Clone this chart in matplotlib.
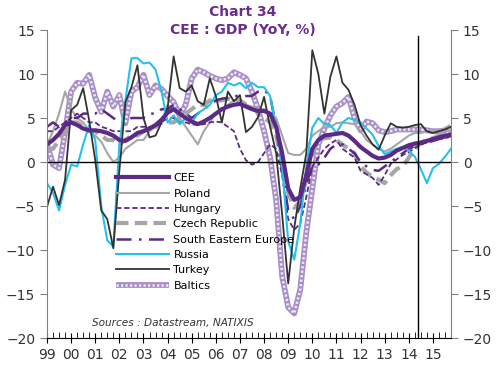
import numpy as np
import matplotlib
matplotlib.use("Agg")
import matplotlib.pyplot as plt
from matplotlib.legend_handler import HandlerTuple

# quarterly, 1999Q1 .. 2015Q4
quarters = 1999 + np.arange(68) / 4.0
year_labels = ["99", "00", "01", "02", "03", "04", "05", "06", "07",
               "08", "09", "10", "11", "12", "13", "14", "15"]

cee = [2.0, 2.5, 3.2, 4.2, 4.5, 4.2, 3.8, 3.6, 3.6, 3.5, 3.3, 3.0,
       2.5, 2.4, 2.8, 3.3, 3.5, 3.8, 4.2, 4.8, 5.6, 6.0, 5.5, 5.0,
       4.6, 4.3, 4.6, 5.0, 5.5, 6.0, 6.3, 6.5, 6.6, 6.3, 6.0, 5.8,
       5.8, 5.5, 4.0, 1.0, -3.0, -4.3, -4.0, -1.5, 1.5, 2.5, 3.0, 3.1,
       3.2, 3.3, 3.0, 2.4, 1.7, 1.2, 0.7, 0.4, 0.5, 0.8, 1.3, 1.6,
       1.9, 2.1, 2.2, 2.4, 2.6, 2.8, 3.0, 3.1]
poland = [2.0, 3.5, 5.5, 8.0, 6.0, 5.0, 4.5, 3.5, 3.0, 2.3, 1.0, 0.0,
          0.5, 1.5, 2.0, 2.5, 2.5, 3.5, 4.0, 4.5, 6.5, 6.0, 5.0, 4.0,
          3.0, 2.0, 3.5, 4.5, 5.5, 6.0, 6.5, 7.0, 7.0, 6.5, 6.3, 6.0,
          6.0, 5.5, 5.0, 3.0, 1.0, 0.8, 0.8, 1.5, 3.0, 3.5, 4.0, 4.0,
          4.4, 4.5, 4.4, 4.3, 3.5, 2.5, 2.0, 1.5, 1.2, 1.5, 2.0, 2.5,
          3.0, 3.3, 3.3, 3.5, 3.5, 3.5, 3.5, 3.6]
hungary = [3.5, 3.5, 4.0, 4.5, 5.0, 5.5, 5.0, 4.5, 4.5, 4.0, 3.8, 3.5,
           3.5, 3.5, 3.5, 4.0, 4.0, 4.0, 4.0, 4.5, 5.0, 5.0, 4.5, 4.5,
           4.3, 4.2, 4.3, 4.5, 4.6, 4.5, 4.0, 3.5, 1.5, 0.2, -0.3, 0.0,
           1.0, 2.0, 1.5, -1.5, -6.5, -7.7, -7.0, -4.0, -0.5, 0.5, 1.5, 2.1,
           2.5, 1.5, 1.0, 0.5, -1.0, -1.4, -1.8, -2.6, -1.5, -0.2, 0.3, 0.8,
           1.1, 1.6, 2.0, 2.2, 2.4, 2.6, 2.7, 2.9]
czech = [1.5, 1.5, 2.5, 3.5, 4.5, 4.5, 4.0, 3.5, 3.5, 3.0, 2.5, 2.5,
         2.0, 2.5, 3.0, 3.0, 3.5, 4.0, 4.0, 4.5, 4.5, 4.5, 5.0, 5.5,
         6.0, 6.5, 6.5, 7.0, 7.0, 7.0, 7.2, 7.0, 7.0, 6.5, 6.5, 5.5,
         5.0, 4.5, 3.0, 0.0, -3.5, -5.2, -4.5, -2.0, 1.0, 2.5, 2.7, 2.8,
         2.5, 2.0, 1.5, 1.0, -0.5, -1.2, -1.7, -2.0, -2.4, -1.5, -0.8, -0.5,
         0.5, 1.5, 2.2, 2.5, 2.7, 3.0, 3.2, 3.5]
see = [4.0, 4.5, 4.0, 4.5, 5.0, 5.0, 5.5, 5.5, 5.5, 6.0, 5.5, 5.0,
       4.5, 4.5, 5.0, 5.0, 5.0, 5.5, 5.5, 6.0, 6.0, 6.5, 6.0, 5.5,
       5.0, 5.5, 6.0, 6.5, 7.0, 7.2, 7.3, 7.5, 7.5, 7.5, 7.5, 8.0,
       8.2, 7.5, 4.0, -1.0, -5.5, -6.5, -5.0, -2.5, -0.5, -0.3, 0.5, 1.5,
       2.0, 2.0, 1.5, 1.0, 0.0, -0.5, -0.9, -1.0, -0.5, 0.0, 0.5, 1.0,
       1.5, 1.8, 2.0, 2.2, 2.4, 2.6, 2.8, 3.0]
russia = [-2.4, -3.5, -5.5, -2.6, -0.3, -0.5, 2.0, 4.2, 2.5, -5.1, -8.9, -9.6,
          2.0, 7.0, 11.8, 11.8, 11.2, 11.3, 10.5, 8.0, 4.5, 5.3, 4.3, 5.0,
          4.5, 5.5, 6.0, 6.5, 7.6, 8.0, 9.0, 8.7, 9.0, 8.4, 9.0, 8.5,
          8.5, 7.5, 4.0, -0.5, -9.0, -11.1, -7.0, -0.5, 3.9, 5.0, 4.3, 4.2,
          3.3, 4.5, 5.0, 4.8, 4.5, 3.8, 3.1, 1.8, 0.9, 1.2, 1.5, 1.7,
          1.3, 0.6, -0.8, -2.4, -0.7, -0.2, 0.6, 1.5]
turkey = [-5.1, -2.8, -4.9, -2.0, 5.9, 6.5, 8.4, 4.7, 0.2, -5.5, -6.5, -9.8,
          -1.0, 6.8, 8.5, 11.0, 5.0, 2.8, 3.0, 4.5, 6.1, 12.0, 8.4, 8.0,
          8.7, 6.9, 6.5, 9.5, 7.5, 4.5, 8.0, 6.9, 7.6, 3.4, 4.0, 5.1,
          7.4, 4.0, 1.0, -6.0, -13.8, -7.5, -3.0, 1.0, 12.7, 10.0, 5.5, 9.7,
          12.0, 9.0, 8.2, 6.5, 4.2, 3.0, 2.0, 1.4, 3.0, 4.4, 4.0, 3.9,
          4.0, 4.2, 4.3, 3.5, 3.3, 3.5, 3.7, 4.0]
baltics = [2.0, -0.3, -0.7, 3.4, 8.0, 9.0, 8.9, 9.9, 7.3, 5.7, 8.0, 6.3,
           7.6, 4.4, 8.0, 8.5, 9.9, 7.6, 8.7, 8.3, 7.5, 6.8, 5.3, 6.5,
           9.5, 10.5, 10.2, 9.8, 9.5, 9.3, 9.5, 10.2, 9.9, 9.5, 8.0, 6.0,
           3.5, 0.5, -4.3, -13.0, -16.5, -17.2, -14.5, -8.0, -3.0, 2.0, 3.8, 5.3,
           6.3, 6.7, 7.4, 5.0, 3.6, 4.6, 4.4, 3.6, 3.4, 3.5, 3.7, 3.7,
           3.7, 3.7, 3.7, 3.6, 3.5, 3.5, 3.6, 4.0]

PURPLE = "#5B2A86"
GREY = "#A6A6A6"

fig = plt.figure(figsize=(5.0, 3.77), dpi=100)
ax = fig.add_axes([0.094, 0.1034, 0.808, 0.817])

# Baltics: chain of small rings -> lavender base with pale dots on top
h_bal0, = ax.plot(quarters, baltics, color="#A890C6", lw=4.2, solid_capstyle="butt")
h_bal1, = ax.plot(quarters, baltics, color="#F0E8F7", lw=1.8, ls=(0, (0.9, 0.9)))
h_pol, = ax.plot(quarters, poland, color=GREY, lw=1.5)
h_cze, = ax.plot(quarters, czech, color=GREY, lw=3, ls=(0, (3, 1.5)))
h_hun, = ax.plot(quarters, hungary, color=PURPLE, lw=1.3, ls=(0, (3, 1.5)))
h_see, = ax.plot(quarters, see, color=PURPLE, lw=1.8, ls=(0, (6, 3, 1, 3)))
h_rus, = ax.plot(quarters, russia, color="#22C2EE", lw=1.5)
h_tur, = ax.plot(quarters, turkey, color="#333333", lw=1.3)
h_cee, = ax.plot(quarters, cee, color=PURPLE, lw=3)

ax.axhline(0, color="black", lw=1)
ax.plot([2014.4, 2014.4], [-20, 14.3], color="black", lw=1)

ax.set_xlim(1999, 2015.72)
ax.set_ylim(-20, 15)
ax.set_yticks(range(-20, 16, 5))
ax.set_xticks(np.arange(1999, 2016))
ax.set_xticklabels(year_labels)
ax.set_xticks(quarters, minor=True)

ax.spines["top"].set_visible(False)
ax.spines["left"].set_color("#808080")
ax.spines["right"].set_color("#808080")
ax.spines["bottom"].set_color("black")

ax.tick_params(axis="y", which="both", direction="out", length=5, color="#808080",
               labelsize=10, labelcolor="#333333", left=True, right=True, labelright=True)
ax.tick_params(axis="x", which="major", direction="inout", length=7, labelsize=10,
               labelcolor="#333333", pad=4)
ax.tick_params(axis="x", which="minor", direction="in", length=4)

handles = [h_cee, h_pol, h_hun, h_cze, h_see, h_rus, h_tur, (h_bal0, h_bal1)]
labels = ["CEE", "Poland", "Hungary", "Czech Republic", "South Eastern Europe",
          "Russia", "Turkey", "Baltics"]
leg = ax.legend(handles, labels, loc="upper left", bbox_to_anchor=(0.17, 0.535),
                frameon=False, fontsize=8, handlelength=4.8, handletextpad=0.4,
                labelspacing=0.48, borderpad=0, borderaxespad=0,
                handler_map={tuple: HandlerTuple(ndivide=1, pad=0)})

ax.text(0.112, 0.04, "Sources : Datastream, NATIXIS", transform=ax.transAxes,
        fontsize=7.6, style="italic", color="#333333")

fig.text(0.486, 0.968, "Chart 34", ha="center", va="center", fontsize=10,
         fontweight="bold", color="#6A2C8E")
fig.text(0.486, 0.921, "CEE : GDP (YoY, %)", ha="center", va="center", fontsize=10,
         fontweight="bold", color="#6A2C8E")

fig.savefig("out.png", dpi=100)
